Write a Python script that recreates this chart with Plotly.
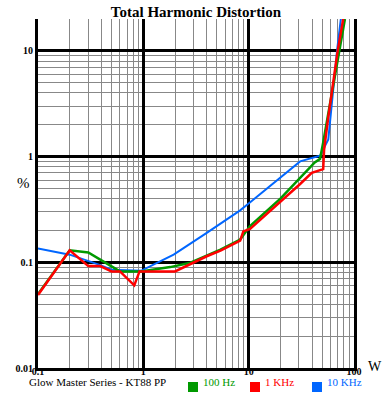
import plotly.graph_objects as go

# ---- data ----
power_100 = [0.1, 0.2, 0.3, 0.6, 0.95, 1.8, 2.8, 5.4, 8.3, 10.3, 20, 30.8, 42.4, 47.6, 51, 72.6, 82]
thd_100 = [0.05, 0.13, 0.124, 0.082, 0.082, 0.090, 0.099, 0.132, 0.164, 0.22, 0.40, 0.63, 0.88, 0.95, 1.36, 10, 20]

power_1k = [0.1, 0.2, 0.3, 0.39, 0.5, 0.6, 0.82, 0.92, 2.0, 4.0, 5.4, 8.3, 8.9, 10.3, 30.8, 39.7, 51, 52, 56.6, 70, 79]
thd_1k = [0.049, 0.13, 0.092, 0.092, 0.082, 0.082, 0.0605, 0.082, 0.082, 0.114, 0.129, 0.16, 0.196, 0.207, 0.55, 0.70, 0.76, 1.16, 2.24, 10, 20]

power_10k = [0.1, 0.2, 0.39, 0.5, 0.95, 1.94, 4.0, 8.3, 10.2, 20, 30.8, 47.6, 57, 69, 75]
thd_10k = [0.135, 0.118, 0.094, 0.085, 0.083, 0.118, 0.19, 0.31, 0.365, 0.635, 0.90, 1.02, 1.45, 10, 20]

x_ticks = [0.1, 1, 10, 100]
x_ticklabels = ["0.1", "1", "10", "100"]
y_ticks = [0.01, 0.1, 1, 10]
y_ticklabels = ["0.01", "0.1", "1", "10"]

series = [
    ("100 Hz", power_100, thd_100, "#009900", 2.5),
    ("1 KHz", power_1k, thd_1k, "#FF0000", 2.5),
    ("10 KHz", power_10k, thd_10k, "#0066FF", 2),
]

SERIF = "Liberation Serif"

fig = go.Figure()
for name, xs, ys, col, w in [series[2], series[0], series[1]]:
    fig.add_trace(go.Scatter(x=xs, y=ys, mode="lines", name=name,
                             line=dict(color=col, width=w), showlegend=False))

W, H = 388, 402
L, R, T, B = 38, 34, 19, 34

fig.update_layout(
    width=W, height=H,
    margin=dict(l=L, r=R, t=T, b=B, pad=0),
    paper_bgcolor="white", plot_bgcolor="white",
    font=dict(family=SERIF, color="black"),
    title=dict(text="<b>Total Harmonic Distortion</b>", x=0.5, xref="paper",
               y=0.972, yref="container", xanchor="center", yanchor="middle",
               font=dict(family=SERIF, size=15, color="black")),
    showlegend=False,
)

fig.update_xaxes(
    type="log", range=[-1, 2],
    tickvals=x_ticks, ticktext=["<b>%s</b>" % t for t in x_ticklabels],
    tickfont=dict(family=SERIF, size=10, color="black"),
    ticks="", ticklabelstandoff=-8,
    showgrid=True, gridcolor="black", gridwidth=3,
    showline=True, linecolor="black", linewidth=3, mirror=False,
    minor=dict(showgrid=True, gridcolor="#888888", gridwidth=1, dtick="D1", ticks=""),
    zeroline=False,
)
fig.update_yaxes(
    type="log", range=[-2, 1.301],
    tickvals=y_ticks, ticktext=["<b>%s</b>" % t for t in y_ticklabels],
    tickfont=dict(family=SERIF, size=10, color="black"),
    ticks="", showgrid=True, gridcolor="black", gridwidth=3,
    showline=True, linecolor="black", linewidth=3, mirror=True,
    minor=dict(showgrid=True, gridcolor="#888888", gridwidth=1, dtick="D1", ticks=""),
    zeroline=False,
)

def px_x(p):
    return (p - L) / (W - L - R)

def px_y(p):
    return (H - B - p) / (H - T - B)

annotations = [
    dict(text="%", x=px_x(15), y=px_y(183), xref="paper", yref="paper",
         showarrow=False, font=dict(family=SERIF, size=15, color="black")),
    dict(text="W", x=px_x(367), y=px_y(375), xref="paper", yref="paper",
         xanchor="left", showarrow=False, borderpad=0,
         font=dict(family=SERIF, size=14, color="black")),
    dict(text="Glow Master Series - KT88 PP", x=px_x(27), y=px_y(389.5), xref="paper", yref="paper",
         xanchor="left", showarrow=False, font=dict(family=SERIF, size=11, color="black")),
]
shapes = []
legend_pos = [(188, "100 Hz", "#009900"), (250, "1 KHz", "#FF0000"), (312, "10 KHz", "#0066FF")]
for xpos, label, col in legend_pos:
    shapes.append(dict(type="rect", xref="paper", yref="paper",
                       x0=px_x(xpos), x1=px_x(xpos + 10), y0=px_y(392), y1=px_y(382),
                       fillcolor=col, line=dict(width=0)))
    annotations.append(dict(text=label, x=px_x(xpos + 13), y=px_y(389.5), xref="paper", yref="paper",
                            xanchor="left", showarrow=False,
                            font=dict(family=SERIF, size=11, color=col)))

fig.update_layout(annotations=annotations, shapes=shapes)
fig.write_html("out.html", config={"displayModeBar": False},
               post_script="document.body.style.margin='0';document.body.style.overflow='hidden';"
                           "window.dispatchEvent(new Event('resize'));")
